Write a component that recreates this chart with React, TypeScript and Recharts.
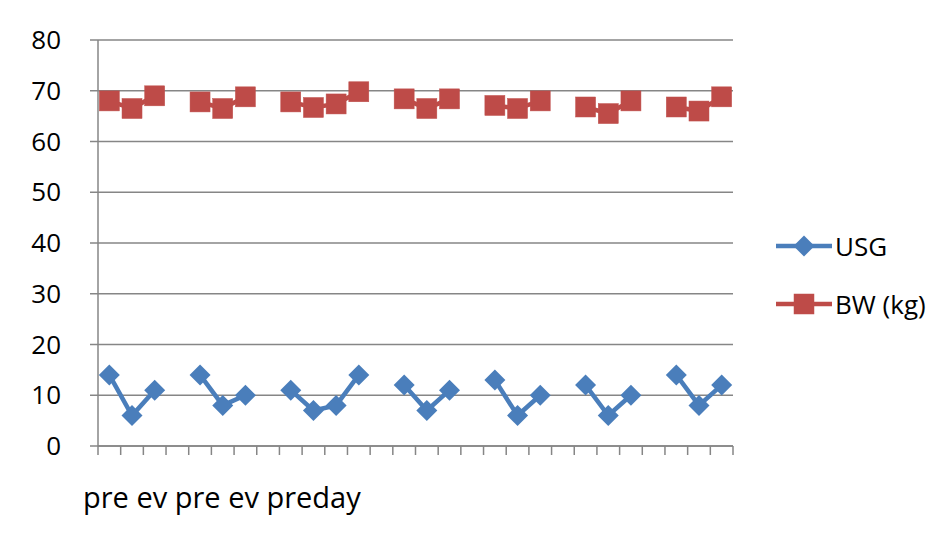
import { LineChart, Line, XAxis, YAxis, CartesianGrid } from 'recharts';

// 28 category slots, gaps (null) between the day groups
const categories = [
  'pre', 'ev', 'pre', '',
  'ev', 'pre', 'ev', '',
  'pre', 'ev', 'pre', 'day', '',
  'pre', 'ev', 'pre', '',
  'pre', 'ev', 'pre', '',
  'pre', 'ev', 'pre', '',
  'pre', 'ev', 'pre',
];

const usg = [
  14, 6, 11, null,
  14, 8, 10, null,
  11, 7, 8, 14, null,
  12, 7, 11, null,
  13, 6, 10, null,
  12, 6, 10, null,
  14, 8, 12,
];

const bw = [
  68, 66.5, 69, null,
  67.8, 66.5, 68.8, null,
  67.8, 66.7, 67.4, 69.8, null,
  68.4, 66.5, 68.4, null,
  67.1, 66.5, 68, null,
  66.8, 65.5, 68, null,
  66.8, 66, 68.8,
];

const yTicks = [0, 10, 20, 30, 40, 50, 60, 70, 80];
const xAxisText = 'pre ev pre ev preday';

const series = [
  { key: 'usg', name: 'USG', color: '#4a7ebb', shape: 'diamond' },
  { key: 'bw', name: 'BW (kg)', color: '#be4b48', shape: 'square' },
];

const data = categories.map((c, i) => ({ idx: i, cat: c, usg: usg[i], bw: bw[i] }));
const xTicks = [...categories.map((_, i) => i - 0.5), categories.length - 0.5];

const FONT = '"Open Sans", sans-serif';
const GRID = '#868686';

const Diamond = ({ cx, cy, fill }: any) => {
  if (cx == null || cy == null) return null;
  const r = 10.5;
  return <path d={`M${cx},${cy - r}L${cx + r},${cy}L${cx},${cy + r}L${cx - r},${cy}Z`} fill={fill} />;
};

const Square = ({ cx, cy, fill }: any) => {
  if (cx == null || cy == null) return null;
  const s = 10;
  return <rect x={cx - s} y={cy - s} width={s * 2} height={s * 2} fill={fill} stroke="#c0504d" strokeWidth={0.5} />;
};

const LegendBox = () => (
  <div style={{ position: 'absolute', left: 766, top: 209, fontFamily: FONT, fontSize: 26 }}>
    {series.map((s) => (
      <div key={s.key} style={{ display: 'flex', alignItems: 'center', height: 58 }}>
        <svg width={60} height={24}>
          <line x1={2} y1={12} x2={58} y2={12} stroke={s.color} strokeWidth={4.5} />
          {s.shape === 'diamond' ? <Diamond cx={30} cy={12} fill={s.color} /> : <Square cx={30} cy={12} fill={s.color} />}
        </svg>
        <span style={{ marginLeft: 1, color: '#000' }}>{s.name}</span>
      </div>
    ))}
  </div>
);

export default function App() {
  return (
    <div
      style={{
        position: 'relative',
        left: -2,
        top: -2,
        width: 943,
        height: 532,
        overflow: 'hidden',
        background: '#fff',
        borderTop: '2px solid #8c8c8c',
        borderLeft: '2px solid #8c8c8c',
      }}
    >
      <LineChart width={941} height={530} data={data} margin={{ top: 32, right: 216, left: 0, bottom: 62 }}>
        <CartesianGrid vertical={false} stroke={GRID} strokeWidth={1.5} />
        <XAxis
          dataKey="idx"
          type="number"
          domain={[-0.5, categories.length - 0.5]}
          ticks={xTicks}
          interval={0}
          tick={() => <g />}
          height={30}
          tickSize={9}
          axisLine={{ stroke: GRID, strokeWidth: 1.5 }}
          tickLine={{ stroke: GRID, strokeWidth: 1.5 }}
        />
        <YAxis
          domain={[0, 80]}
          ticks={yTicks}
          width={90}
          tickSize={8}
          tickMargin={29}
          interval={0}
          axisLine={{ stroke: GRID, strokeWidth: 1.5 }}
          tickLine={{ stroke: GRID, strokeWidth: 1.5 }}
          tick={{ fill: '#000', fontSize: 26, fontFamily: FONT }}
        />
        <Line
          dataKey="usg"
          name="USG"
          stroke={series[0].color}
          strokeWidth={4.5}
          dot={<Diamond fill={series[0].color} />}
          activeDot={false}
          connectNulls={false}
          isAnimationActive={false}
        />
        <Line
          dataKey="bw"
          name="BW (kg)"
          stroke={series[1].color}
          strokeWidth={4.5}
          dot={<Square fill={series[1].color} />}
          activeDot={false}
          connectNulls={false}
          isAnimationActive={false}
        />
      </LineChart>
      <LegendBox />
      <div
        style={{
          position: 'absolute',
          left: 75,
          top: 469,
          fontFamily: FONT,
          fontSize: 29,
          lineHeight: '40px',
          color: '#000',
          whiteSpace: 'nowrap',
        }}
      >
        {xAxisText}
      </div>
    </div>
  );
}
